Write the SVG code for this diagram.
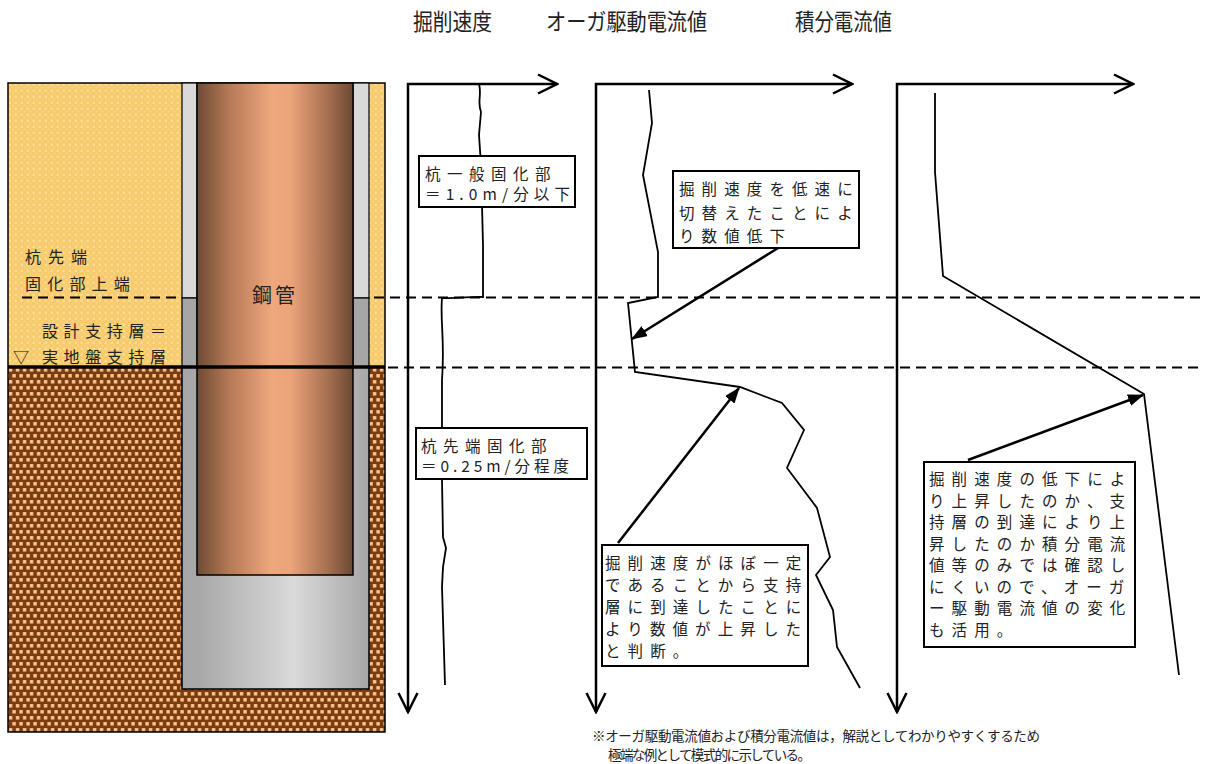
<svg xmlns="http://www.w3.org/2000/svg" width="1207" height="764" viewBox="0 0 1207 764">
<style>
.t{font-family:"Noto Sans CJK JP","Noto Sans",sans-serif;fill:#222}
.box{fill:#fff;stroke:#000;stroke-width:2}
.bt{font-size:15.5px;letter-spacing:7.1px}
.ax{fill:none;stroke:#000;stroke-width:2.5;marker-start:url(#chev);marker-end:url(#chev)}
.cv{fill:none;stroke:#000;stroke-width:1.8;stroke-linejoin:miter}
.dash{stroke:#000;stroke-width:2.2;stroke-dasharray:10 6}
.conn{fill:none;stroke:#000;stroke-width:2.5;marker-end:url(#ah)}
</style>
<defs>
<pattern id="sand" x="8" y="83" width="6" height="6" patternUnits="userSpaceOnUse">
<rect width="6" height="6" fill="#f7ca6b"/>
<rect x="0.5" y="0.5" width="2.5" height="2.5" fill="#fcdb92"/>
<rect x="3.5" y="3.5" width="2" height="2" fill="#fad585"/>
</pattern>
<pattern id="gravel" x="8" y="367" width="7" height="12" patternUnits="userSpaceOnUse">
<rect width="7" height="12" fill="#7b3c10"/>
<rect x="0.8" y="1" width="3.6" height="3.6" fill="#f0b27c"/>
<rect x="1.6" y="1.8" width="1.8" height="1.8" fill="#fbd2a6"/>
<rect x="4.3" y="7" width="3.6" height="3.6" fill="#f0b27c"/>
<rect x="5.1" y="7.8" width="1.8" height="1.8" fill="#fbd2a6"/>
<rect x="-2.7" y="7" width="3.6" height="3.6" fill="#f0b27c"/>
</pattern>
<linearGradient id="pipeG" x1="0" y1="0" x2="1" y2="0">
<stop offset="0" stop-color="#6f4a34"/>
<stop offset="0.2" stop-color="#b37855"/>
<stop offset="0.48" stop-color="#efa87d"/>
<stop offset="0.6" stop-color="#eba47a"/>
<stop offset="0.85" stop-color="#a26d4f"/>
<stop offset="1" stop-color="#6b4934"/>
</linearGradient>
<linearGradient id="casG" x1="0" y1="0" x2="1" y2="0">
<stop offset="0" stop-color="#a6a6a6"/>
<stop offset="0.1" stop-color="#a9a9a9"/>
<stop offset="0.6" stop-color="#dadada"/>
<stop offset="1" stop-color="#a6a6a6"/>
</linearGradient>
<marker id="chev" viewBox="-22 -12 24 24" refX="0" refY="0" markerWidth="24" markerHeight="24" markerUnits="userSpaceOnUse" orient="auto-start-reverse">
<path d="M-19,-9.5 L0,0 L-19,9.5" fill="none" stroke="#000" stroke-width="2.5"/>
</marker>
<marker id="ah" viewBox="0 0 16 12" refX="15" refY="6" markerWidth="16" markerHeight="12" markerUnits="userSpaceOnUse" orient="auto">
<path d="M0,0 L16,6 L0,12 z" fill="#000"/>
</marker>
</defs>
<rect width="1207" height="764" fill="#fff"/>

<g id="ground">
<rect x="8" y="83" width="377" height="284" fill="url(#sand)"/>
<rect x="8" y="367" width="377" height="365" fill="url(#gravel)"/>
<rect x="8" y="83" width="377" height="649" fill="none" stroke="#000" stroke-width="1.5"/>
<text class="t" x="25" y="263" font-size="16" letter-spacing="7" fill="#333">杭先端</text>
<text class="t" x="25" y="290" font-size="16" letter-spacing="6.2" fill="#333">固化部上端</text>
<text class="t" x="42" y="337" font-size="16" letter-spacing="5.6" fill="#333">設計支持層＝</text>
<text class="t" x="13" y="363" font-size="16" fill="#333">▽</text>
<text class="t" x="42" y="363" font-size="16" letter-spacing="5.6" fill="#333">実地盤支持層</text>
</g>

<g id="levels">
<line class="dash" x1="22" y1="297.5" x2="1202" y2="297.5"/>
<line class="dash" x1="388" y1="367.5" x2="1202" y2="367.5"/>
</g>

<g id="casing">
<rect x="182" y="367" width="187" height="322" fill="url(#casG)" stroke="#000" stroke-width="1.5"/>
<rect x="182" y="83" width="15" height="215" fill="#d9d9d9" stroke="#000" stroke-width="1.2"/>
<rect x="182" y="298" width="15" height="69" fill="#a6a6a6" stroke="#000" stroke-width="1.2"/>
<rect x="353" y="83" width="16" height="215" fill="#d9d9d9" stroke="#000" stroke-width="1.2"/>
<rect x="353" y="298" width="16" height="69" fill="#a6a6a6" stroke="#000" stroke-width="1.2"/>
</g>

<g id="pipe">
<rect x="197" y="83" width="156" height="492" fill="url(#pipeG)" stroke="#000" stroke-width="1.5"/>
<text class="t" x="275" y="303" font-size="20" letter-spacing="3" text-anchor="middle">鋼管</text>
</g>
<line x1="8" y1="367" x2="385" y2="367" stroke="#000" stroke-width="3.5"/>

<g id="titles">
<text class="t" x="413" y="30" font-size="23" textLength="79" lengthAdjust="spacingAndGlyphs">掘削速度</text>
<text class="t" x="546" y="30" font-size="23" textLength="161" lengthAdjust="spacingAndGlyphs">オーガ駆動電流値</text>
<text class="t" x="795" y="30" font-size="23" textLength="97" lengthAdjust="spacingAndGlyphs">積分電流値</text>
</g>

<g id="graph-speed">
<path class="ax" d="M557,84 L408,84 L408,712"/>
<path class="cv" d="M479,84 C482,95 477,102 481,112 L479,135 L481,165 L482,205 L483,245 L483,297 C470,296 460,299 442,298 C440,320 445,340 442,380 L442,480 L443,537 L446,548 L443,567 L442,587 L445,685"/>
</g>

<g id="graph-auger">
<path class="ax" d="M852,84 L596,84 L596,712"/>
<path class="cv" d="M649,90 L652,123 L643,175 L658,252 L658,297 L628,303 L635,372 L740,387 L782,403 L804,430 L787,468 L817,508 L830,557 L816,575 L833,610 L837,647 L860,688"/>
</g>

<g id="graph-integral">
<path class="ax" d="M1133,84 L897,84 L897,712"/>
<path class="cv" d="M935,93 L935,172 L943,276 L1144,394 L1179,675"/>
</g>

<g id="connectors">
<line class="conn" x1="778" y1="248" x2="632" y2="339"/>
<line class="conn" x1="618" y1="543" x2="739" y2="388"/>
<line class="conn" x1="968" y1="460" x2="1143" y2="395"/>
</g>

<g id="note-general">
<rect class="box" x="419" y="156" width="156" height="51"/>
<text class="t" x="425" y="180" font-size="15.5" letter-spacing="6.5">杭一般固化部</text>
<text class="t" x="425" y="200" font-size="15.5" textLength="145" lengthAdjust="spacing">＝1.0m/分以下</text>
</g>

<g id="note-tip">
<rect class="box" x="416" y="428" width="171" height="51"/>
<text class="t" x="421" y="452" font-size="15.5" letter-spacing="6.5">杭先端固化部</text>
<text class="t" x="421" y="472" font-size="15.5" textLength="148" lengthAdjust="spacing">＝0.25m/分程度</text>
</g>

<g id="note-drop">
<rect class="box" x="673" y="171" width="186" height="77"/>
<text class="t bt" x="679" y="195">掘削速度を低速に</text>
<text class="t bt" x="679" y="219">切替えたことによ</text>
<text class="t bt" x="679" y="242">り数値低下</text>
</g>

<g id="note-rise">
<rect class="box" x="602" y="545" width="206" height="121"/>
<text class="t bt" x="605" y="569">掘削速度がほぼ一定</text>
<text class="t bt" x="605" y="591">であることから支持</text>
<text class="t bt" x="605" y="613">層に到達したことに</text>
<text class="t bt" x="605" y="635">より数値が上昇した</text>
<text class="t bt" x="605" y="657">と判断。</text>
</g>

<g id="note-integral">
<rect class="box" x="924" y="462" width="211" height="185"/>
<text class="t bt" x="929" y="485">掘削速度の低下によ</text>
<text class="t bt" x="929" y="506.5">り上昇したのか、支</text>
<text class="t bt" x="929" y="528">持層の到達により上</text>
<text class="t bt" x="929" y="549.5">昇したのか積分電流</text>
<text class="t bt" x="929" y="571">値等のみでは確認し</text>
<text class="t bt" x="929" y="592.5">にくいので、オーガ</text>
<text class="t bt" x="929" y="614">ー駆動電流値の変化</text>
<text class="t bt" x="929" y="635.5">も活用。</text>
</g>

<g id="footnote">
<text class="t" x="592" y="741" font-size="13.5" fill="#333" textLength="448" lengthAdjust="spacing">※オーガ駆動電流値および積分電流値は，解説としてわかりやすくするため</text>
<text class="t" x="608" y="760" font-size="13.5" fill="#333" textLength="203" lengthAdjust="spacing">極端な例として模式的に示している。</text>
</g>
</svg>
